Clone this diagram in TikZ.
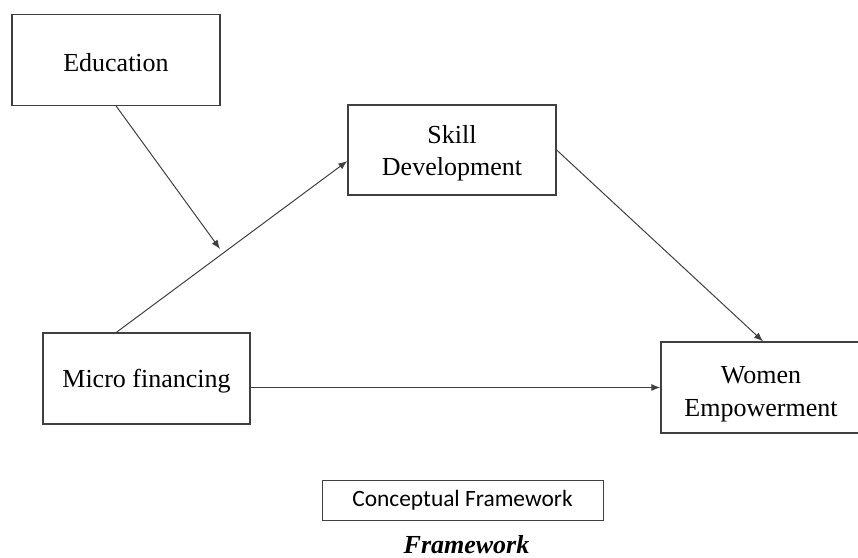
\documentclass[tikz,border=0pt]{standalone}
\usepackage{fontspec}
\setmainfont{Liberation Serif}
\newfontfamily\calib{Carlito}
\usetikzlibrary{arrows.meta,calc}
\definecolor{linegray}{HTML}{404040}
\tikzset{
  box/.style={draw=linegray, line width=1.3pt, rectangle, inner sep=0pt,
    minimum height=91pt},
  txt/.style={inner sep=0pt, align=center, font=\fontsize{26}{32.5}\selectfont, text=black},
  conn/.style={draw=linegray, line width=1pt, -{Latex[length=9pt,width=7pt]}},
}
\begin{document}
\begin{tikzpicture}[x=1pt,y=-1pt]
\useasboundingbox (0,0) rectangle (858,557);
\clip (0,0) rectangle (858,557);
\node[box, minimum width=208pt] (edu) at (116,59.7) {};
\node[txt] (eduT) at ($(edu.center)+(0,2.5)$) {Education};
\node[box, minimum width=208pt, minimum height=90pt] (skill) at (452,150) {};
\node[txt] (skillT) at ($(skill.center)+(0,3)$) {Skill\\Development};
\node[box, minimum width=207pt] (micro) at (146.5,378.5) {};
\node[txt] (microT) at ($(micro.center)+(0,3)$) {Micro financing};
\node[box, minimum width=200pt] (women) at (761,387.5) {};
\node[txt] (womenT) at ($(women.center)+(0,6.5)$) {Women\\Empowerment};
\node[draw=linegray, line width=1pt, minimum width=281pt, minimum height=40pt, inner sep=0pt,
  font=\calib\fontsize{23.4}{28}\selectfont] (cf) at (462.5,500) {Conceptual Framework};
\node[anchor=base, inner sep=0pt, font=\fontsize{26}{30}\selectfont\bfseries\itshape] (fw) at (466.5,553) {Framework};
\coordinate (moderate) at (220,249);
\draw[conn] (edu.south) -- (moderate);
\draw[conn] ($(micro.north west)+(74,0)$) -- ($(skill.west)+(0,11)$);
\draw[conn] (skill.east) -- ($(women.north)+(2,0)$);
\draw[conn] (micro.east |- women.west) -- (women.west);
\end{tikzpicture}
\end{document}
